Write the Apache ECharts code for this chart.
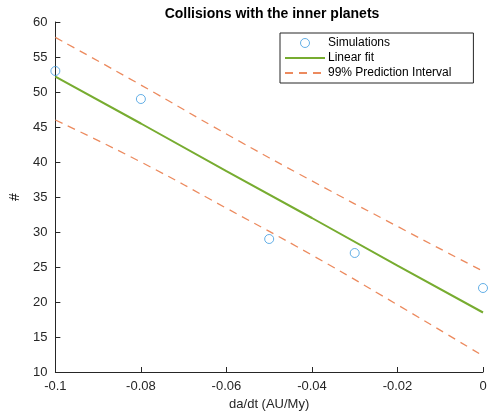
<!DOCTYPE html>
<html>
<head>
<meta charset="utf-8">
<script src="https://cdn.jsdelivr.net/npm/echarts@6/dist/echarts.min.js"></script>
<style>
  html, body { margin: 0; padding: 0; background: #fff; }
  #chart { width: 492px; height: 416px; }
</style>
</head>
<body>
<div id="chart"></div>
<script>
// simulation points
var simX = [-0.1, -0.08, -0.05, -0.03, 0];
var simY = [53, 49, 29, 27, 22];

// fit and prediction band
var bandX = [-0.1, -0.08, -0.06, -0.04, -0.02, 0];
var fitY = [52.2, 45.5, 38.7, 32.0, 25.2, 18.5];
var upperY = [57.8, 51.0, 44.0, 37.3, 30.8, 24.4];
var lowerY = [46.0, 40.0, 33.4, 26.7, 19.6, 12.3];

var xTicks = ['-0.1', '-0.08', '-0.06', '-0.04', '-0.02', '0'];

function pairs(xs, ys) {
  return xs.map(function (x, i) { return [x, ys[i]]; });
}

var font = 'Liberation Sans, Arial, sans-serif';
var axisColor = '#262626';
var blue = '#3d9be0';
var green = '#77ac30';
var orange = '#ec8a5e';
var bandName = '99% Prediction Interval';
var noDot = { color: 'rgba(0,0,0,0)', borderWidth: 0, opacity: 0 };

var myChart = echarts.init(document.getElementById('chart'));
var option = {
  animation: false,
  backgroundColor: '#fff',
  textStyle: { fontFamily: font },
  title: {
    text: 'Collisions with the inner planets',
    left: 267, top: 2, textAlign: 'center',
    textStyle: { fontSize: 14, fontWeight: 'bold', color: '#000', fontFamily: font }
  },
  legend: {
    orient: 'vertical',
    left: 280, top: 33,
    padding: [4, 22, 4, 4],
    itemWidth: 40, itemHeight: 9, itemGap: 3,
    backgroundColor: '#fff',
    borderColor: axisColor, borderWidth: 1, borderRadius: 0,
    textStyle: { fontSize: 12, color: '#000', fontFamily: font, padding: [0, 0, 0, -2] },
    data: [
      { name: 'Simulations', itemStyle: { color: 'rgba(0,0,0,0)', borderColor: blue, borderWidth: 1 } },
      { name: 'Linear fit', itemStyle: noDot },
      { name: bandName, itemStyle: noDot }
    ]
  },
  grid: { left: 52, right: 9, top: 22, bottom: 43 },
  xAxis: {
    type: 'value', min: -0.1, max: 0, interval: 0.02,
    name: 'da/dt (AU/My)', nameLocation: 'middle', nameGap: 26,
    nameTextStyle: { fontSize: 13, color: axisColor },
    axisLine: { show: true, onZero: false, lineStyle: { color: axisColor, width: 1 } },
    axisTick: { show: true, inside: true, length: 5, lineStyle: { color: axisColor, width: 1 } },
    axisLabel: {
      fontSize: 13, color: axisColor, margin: 8,
      formatter: function (v) {
        var i = Math.round((v + 0.1) / 0.02);
        return xTicks[i];
      }
    },
    splitLine: { show: false }
  },
  yAxis: {
    type: 'value', min: 10, max: 60, interval: 5,
    name: '#', nameLocation: 'middle', nameGap: 33, nameRotate: 90,
    nameTextStyle: { fontSize: 14, color: '#000' },
    axisLine: { show: true, onZero: false, lineStyle: { color: axisColor, width: 1 } },
    axisTick: { show: true, inside: true, length: 5, lineStyle: { color: axisColor, width: 1 } },
    axisLabel: { fontSize: 13, color: axisColor, margin: 8 },
    splitLine: { show: false }
  },
  series: [
    {
      name: 'Simulations', type: 'scatter',
      data: pairs(simX, simY),
      symbol: 'circle', symbolSize: 9, z: 5,
      itemStyle: { color: 'rgba(0,0,0,0)', borderColor: blue, borderWidth: 1 }
    },
    {
      name: 'Linear fit', type: 'line',
      data: pairs(bandX, fitY),
      symbol: 'none', smooth: false,
      lineStyle: { color: green, width: 2 },
      itemStyle: { color: green }
    },
    {
      name: bandName, type: 'line',
      data: pairs(bandX, upperY),
      symbol: 'none', smooth: true,
      lineStyle: { color: orange, width: 1.3, type: [8, 6] },
      itemStyle: { color: orange }
    },
    {
      name: bandName, type: 'line',
      data: pairs(bandX, lowerY),
      symbol: 'none', smooth: true,
      lineStyle: { color: orange, width: 1.3, type: [8, 6] },
      itemStyle: { color: orange }
    }
  ]
};
myChart.setOption(option);
</script>
</body>
</html>
